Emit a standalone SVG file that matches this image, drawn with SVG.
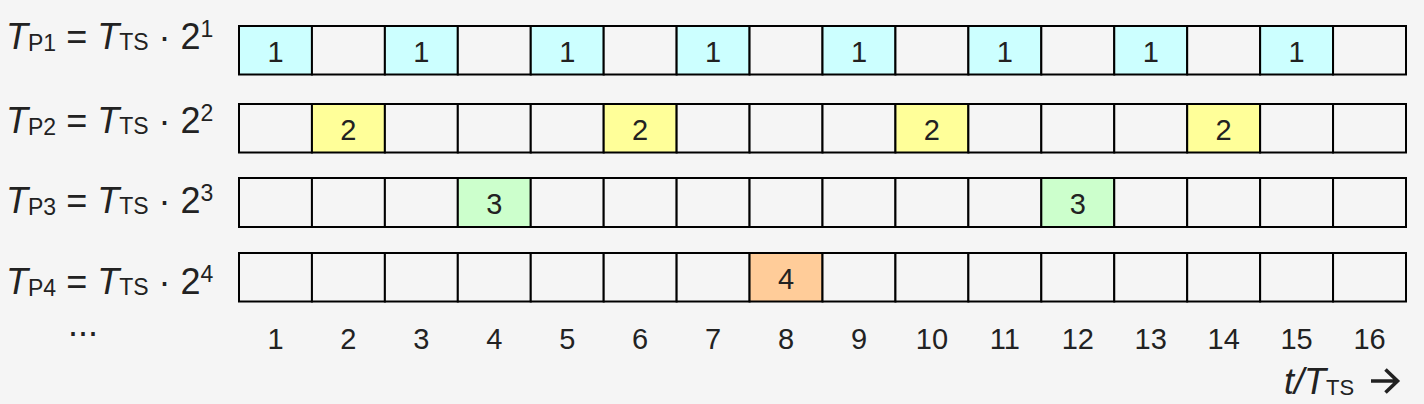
<svg xmlns="http://www.w3.org/2000/svg" width="1424" height="404" viewBox="0 0 1424 404">
<style>
text{font-family:"Liberation Sans",Arial,sans-serif;fill:#222}
.cell{stroke:#000;stroke-width:2;fill:#f5f5f5}
.c1{fill:#ccffff}.c2{fill:#ffff99}.c3{fill:#ccffcc}.c4{fill:#ffcc99}
.num{font-size:29px;text-anchor:middle}
.lbl{font-size:36px}
.it{font-style:italic}
.sub{font-size:23px}
</style>
<rect width="1424" height="404" fill="#f5f5f5"/>
<g id="labels">
<text class="lbl" x="6" y="49"><tspan class="it">T</tspan><tspan class="sub" dy="1.5">P1</tspan><tspan dy="-1.5"> = </tspan><tspan class="it">T</tspan><tspan class="sub" dy="1">TS</tspan><tspan dy="-1"> · 2</tspan><tspan class="sub" dy="-12.5">1</tspan></text>
<text class="lbl" x="6" y="133"><tspan class="it">T</tspan><tspan class="sub" dy="1.5">P2</tspan><tspan dy="-1.5"> = </tspan><tspan class="it">T</tspan><tspan class="sub" dy="1">TS</tspan><tspan dy="-1"> · 2</tspan><tspan class="sub" dy="-12.5">2</tspan></text>
<text class="lbl" x="6" y="213"><tspan class="it">T</tspan><tspan class="sub" dy="1.5">P3</tspan><tspan dy="-1.5"> = </tspan><tspan class="it">T</tspan><tspan class="sub" dy="1">TS</tspan><tspan dy="-1"> · 2</tspan><tspan class="sub" dy="-12.5">3</tspan></text>
<text class="lbl" x="6" y="294"><tspan class="it">T</tspan><tspan class="sub" dy="1.5">P4</tspan><tspan dy="-1.5"> = </tspan><tspan class="it">T</tspan><tspan class="sub" dy="1">TS</tspan><tspan dy="-1"> · 2</tspan><tspan class="sub" dy="-12.5">4</tspan></text>
<text class="lbl" x="68" y="336">...</text>
</g>
<g id="row1">
<rect class="cell c1" x="239" y="26" width="72.94" height="48.5"/>
<rect class="cell" x="311.94" y="26" width="72.94" height="48.5"/>
<rect class="cell c1" x="384.88" y="26" width="72.94" height="48.5"/>
<rect class="cell" x="457.81" y="26" width="72.94" height="48.5"/>
<rect class="cell c1" x="530.75" y="26" width="72.94" height="48.5"/>
<rect class="cell" x="603.69" y="26" width="72.94" height="48.5"/>
<rect class="cell c1" x="676.63" y="26" width="72.94" height="48.5"/>
<rect class="cell" x="749.56" y="26" width="72.94" height="48.5"/>
<rect class="cell c1" x="822.5" y="26" width="72.94" height="48.5"/>
<rect class="cell" x="895.44" y="26" width="72.94" height="48.5"/>
<rect class="cell c1" x="968.38" y="26" width="72.94" height="48.5"/>
<rect class="cell" x="1041.31" y="26" width="72.94" height="48.5"/>
<rect class="cell c1" x="1114.25" y="26" width="72.94" height="48.5"/>
<rect class="cell" x="1187.19" y="26" width="72.94" height="48.5"/>
<rect class="cell c1" x="1260.13" y="26" width="72.94" height="48.5"/>
<rect class="cell" x="1333.06" y="26" width="72.94" height="48.5"/>
<text class="num" x="275.47" y="61.7">1</text>
<text class="num" x="421.34" y="61.7">1</text>
<text class="num" x="567.22" y="61.7">1</text>
<text class="num" x="713.09" y="61.7">1</text>
<text class="num" x="858.97" y="61.7">1</text>
<text class="num" x="1004.84" y="61.7">1</text>
<text class="num" x="1150.72" y="61.7">1</text>
<text class="num" x="1296.59" y="61.7">1</text>
</g>
<g id="row2">
<rect class="cell" x="239" y="104" width="72.94" height="48.5"/>
<rect class="cell c2" x="311.94" y="104" width="72.94" height="48.5"/>
<rect class="cell" x="384.88" y="104" width="72.94" height="48.5"/>
<rect class="cell" x="457.81" y="104" width="72.94" height="48.5"/>
<rect class="cell" x="530.75" y="104" width="72.94" height="48.5"/>
<rect class="cell c2" x="603.69" y="104" width="72.94" height="48.5"/>
<rect class="cell" x="676.63" y="104" width="72.94" height="48.5"/>
<rect class="cell" x="749.56" y="104" width="72.94" height="48.5"/>
<rect class="cell" x="822.5" y="104" width="72.94" height="48.5"/>
<rect class="cell c2" x="895.44" y="104" width="72.94" height="48.5"/>
<rect class="cell" x="968.38" y="104" width="72.94" height="48.5"/>
<rect class="cell" x="1041.31" y="104" width="72.94" height="48.5"/>
<rect class="cell" x="1114.25" y="104" width="72.94" height="48.5"/>
<rect class="cell c2" x="1187.19" y="104" width="72.94" height="48.5"/>
<rect class="cell" x="1260.13" y="104" width="72.94" height="48.5"/>
<rect class="cell" x="1333.06" y="104" width="72.94" height="48.5"/>
<text class="num" x="348.41" y="139.7">2</text>
<text class="num" x="640.16" y="139.7">2</text>
<text class="num" x="931.91" y="139.7">2</text>
<text class="num" x="1223.66" y="139.7">2</text>
</g>
<g id="row3">
<rect class="cell" x="239" y="178" width="72.94" height="49"/>
<rect class="cell" x="311.94" y="178" width="72.94" height="49"/>
<rect class="cell" x="384.88" y="178" width="72.94" height="49"/>
<rect class="cell c3" x="457.81" y="178" width="72.94" height="49"/>
<rect class="cell" x="530.75" y="178" width="72.94" height="49"/>
<rect class="cell" x="603.69" y="178" width="72.94" height="49"/>
<rect class="cell" x="676.63" y="178" width="72.94" height="49"/>
<rect class="cell" x="749.56" y="178" width="72.94" height="49"/>
<rect class="cell" x="822.5" y="178" width="72.94" height="49"/>
<rect class="cell" x="895.44" y="178" width="72.94" height="49"/>
<rect class="cell" x="968.38" y="178" width="72.94" height="49"/>
<rect class="cell c3" x="1041.31" y="178" width="72.94" height="49"/>
<rect class="cell" x="1114.25" y="178" width="72.94" height="49"/>
<rect class="cell" x="1187.19" y="178" width="72.94" height="49"/>
<rect class="cell" x="1260.13" y="178" width="72.94" height="49"/>
<rect class="cell" x="1333.06" y="178" width="72.94" height="49"/>
<text class="num" x="494.28" y="214.2">3</text>
<text class="num" x="1077.78" y="214.2">3</text>
</g>
<g id="row4">
<rect class="cell" x="239" y="253" width="72.94" height="48.5"/>
<rect class="cell" x="311.94" y="253" width="72.94" height="48.5"/>
<rect class="cell" x="384.88" y="253" width="72.94" height="48.5"/>
<rect class="cell" x="457.81" y="253" width="72.94" height="48.5"/>
<rect class="cell" x="530.75" y="253" width="72.94" height="48.5"/>
<rect class="cell" x="603.69" y="253" width="72.94" height="48.5"/>
<rect class="cell" x="676.63" y="253" width="72.94" height="48.5"/>
<rect class="cell c4" x="749.56" y="253" width="72.94" height="48.5"/>
<rect class="cell" x="822.5" y="253" width="72.94" height="48.5"/>
<rect class="cell" x="895.44" y="253" width="72.94" height="48.5"/>
<rect class="cell" x="968.38" y="253" width="72.94" height="48.5"/>
<rect class="cell" x="1041.31" y="253" width="72.94" height="48.5"/>
<rect class="cell" x="1114.25" y="253" width="72.94" height="48.5"/>
<rect class="cell" x="1187.19" y="253" width="72.94" height="48.5"/>
<rect class="cell" x="1260.13" y="253" width="72.94" height="48.5"/>
<rect class="cell" x="1333.06" y="253" width="72.94" height="48.5"/>
<text class="num" x="786.03" y="288.7">4</text>
</g>
<g id="axis">
<text class="num" x="275.47" y="349">1</text>
<text class="num" x="348.41" y="349">2</text>
<text class="num" x="421.34" y="349">3</text>
<text class="num" x="494.28" y="349">4</text>
<text class="num" x="567.22" y="349">5</text>
<text class="num" x="640.16" y="349">6</text>
<text class="num" x="713.09" y="349">7</text>
<text class="num" x="786.03" y="349">8</text>
<text class="num" x="858.97" y="349">9</text>
<text class="num" x="931.91" y="349">10</text>
<text class="num" x="1004.84" y="349">11</text>
<text class="num" x="1077.78" y="349">12</text>
<text class="num" x="1150.72" y="349">13</text>
<text class="num" x="1223.66" y="349">14</text>
<text class="num" x="1296.59" y="349">15</text>
<text class="num" x="1369.53" y="349">16</text>
<text class="lbl" x="1284" y="394"><tspan class="it">t</tspan><tspan class="it">/T</tspan><tspan font-size="22" dy="0.5">TS</tspan></text>
</g>
<g id="connectors">
<path d="M1371 381H1396M1385.5 369.5L1397.5 381L1385.5 392.5" fill="none" stroke="#222" stroke-width="3.6"/>
</g>
</svg>
